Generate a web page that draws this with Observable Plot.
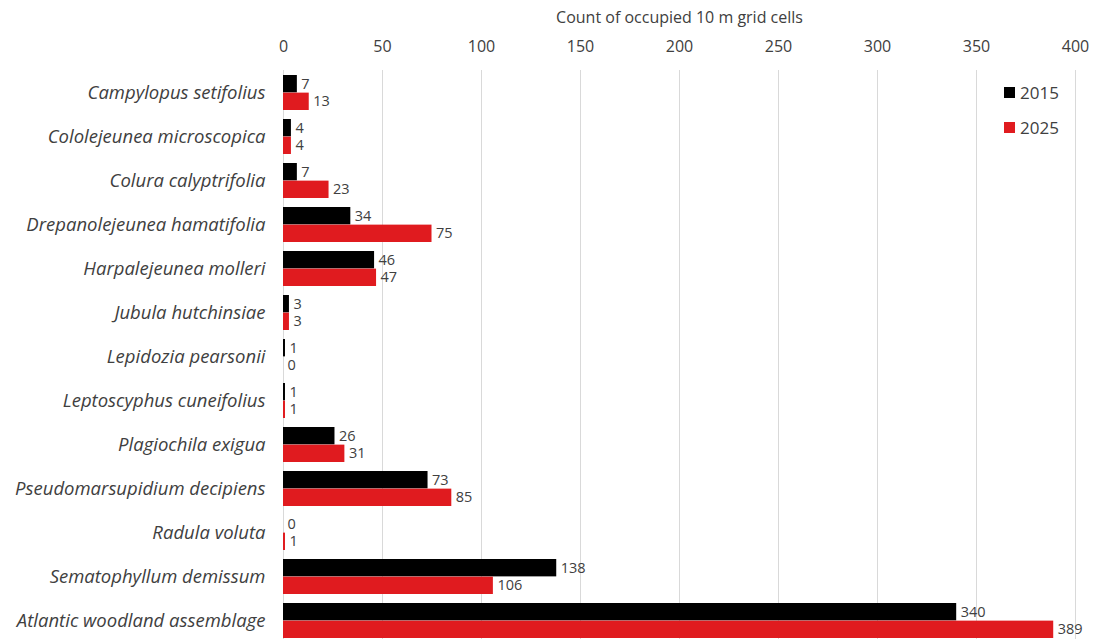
<!DOCTYPE html>
<html>
<head>
<meta charset="utf-8">
<script src="https://cdn.jsdelivr.net/npm/d3@7"></script>
<script src="https://cdn.jsdelivr.net/npm/@observablehq/plot@0.6"></script>
<style>
  html, body { margin: 0; padding: 0; background: #fff; }
  #wrap { position: relative; width: 1099px; height: 639px; font-family: "Open Sans", sans-serif; }
  #legend { position: absolute; left: 1004px; top: 75px; font-size: 17px; color: #404040; }
  #legend div { display: flex; align-items: center; height: 35px; }
  #legend span.sw { display: inline-block; width: 11px; height: 11px; margin-right: 5px; }
</style>
</head>
<body>
<div id="wrap"><div id="legend"></div></div>
<script>
const species = [
  "Campylopus setifolius",
  "Cololejeunea microscopica",
  "Colura calyptrifolia",
  "Drepanolejeunea hamatifolia",
  "Harpalejeunea molleri",
  "Jubula hutchinsiae",
  "Lepidozia pearsonii",
  "Leptoscyphus cuneifolius",
  "Plagiochila exigua",
  "Pseudomarsupidium decipiens",
  "Radula voluta",
  "Sematophyllum demissum",
  "Atlantic woodland assemblage"
];
const years = ["2015", "2025"];
const v2015 = [7, 4, 7, 34, 46, 3, 1, 1, 26, 73, 0, 138, 340];
const v2025 = [13, 4, 23, 75, 47, 3, 0, 1, 31, 85, 1, 106, 389];
const colors = ["#000000", "#e01b1f"];
const xTicks = [0, 50, 100, 150, 200, 250, 300, 350, 400];

const d15 = species.map((s, i) => ({species: s, value: v2015[i]}));
const d25 = species.map((s, i) => ({species: s, value: v2025[i]}));

const yRange = [70.6, 643.4];
const step = (yRange[1] - yRange[0]) / species.length;
const band = step * 0.8;
const half = band / 2;

const chart = Plot.plot({
  width: 1099,
  height: 639,
  marginTop: 70,
  marginBottom: 0,
  marginLeft: 283,
  marginRight: 24,
  style: {fontFamily: "Open Sans, sans-serif", color: "#404040", background: "#fff"},
  x: {domain: [0, 400], ticks: xTicks},
  y: {domain: species, range: yRange, paddingInner: 0.2, paddingOuter: 0.1, label: null},
  marks: [
    Plot.gridX(xTicks, {stroke: "#d9d9d9", strokeOpacity: 1, strokeWidth: 1}),
    Plot.axisX({anchor: "top", ticks: xTicks, tickSize: 0, tickPadding: 19, fontSize: 16,
      label: "Count of occupied 10 m grid cells", labelAnchor: "center", labelArrow: "none", labelOffset: 59}),
    Plot.axisY({tickSize: 0, tickPadding: 18, fontSize: 18.5, fontStyle: "italic", label: null}),
    Plot.barX(d15, {x: "value", y: "species", fill: colors[0], insetBottom: half}),
    Plot.barX(d25, {x: "value", y: "species", fill: colors[1], insetTop: half}),
    Plot.text(d15, {x: "value", y: "species", text: d => String(d.value), dy: -half / 2, dx: 4, textAnchor: "start", fontSize: 14.5, fill: "#404040"}),
    Plot.text(d25, {x: "value", y: "species", text: d => String(d.value), dy: half / 2, dx: 4, textAnchor: "start", fontSize: 14.5, fill: "#404040"})
  ]
});
document.getElementById("wrap").prepend(chart);

const legend = document.getElementById("legend");
years.forEach((y, i) => {
  const row = document.createElement("div");
  row.innerHTML = `<span class="sw" style="background:${colors[i]}"></span>${y}`;
  legend.appendChild(row);
});
</script>
</body>
</html>
